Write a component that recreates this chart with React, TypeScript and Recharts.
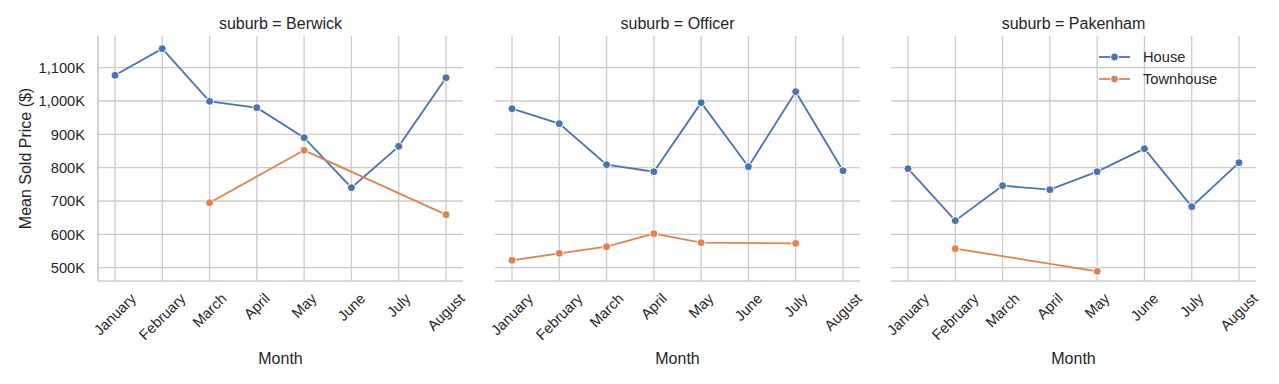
import { LineChart, Line, XAxis, YAxis, CartesianGrid } from 'recharts'

// Seaborn "deep" palette + whitegrid style
const HOUSE_COLOR = '#4c72b0'
const TOWNHOUSE_COLOR = '#dd8452'
const GRID = '#cccccc'
const INK = '#262626'
const FONT = '"Liberation Sans", Arial, sans-serif'
const TICK_FONT = 14.67
const LABEL_FONT = 16

const MONTHS = ['January', 'February', 'March', 'April', 'May', 'June', 'July', 'August']
const SUBURBS = ['Berwick', 'Officer', 'Pakenham']

const BERWICK_HOUSE = [1077000, 1157000, 999000, 980000, 890000, 740000, 864000, 1070000]
const BERWICK_TOWNHOUSE = [null, null, 695000, null, 852000, null, null, 659000]
const OFFICER_HOUSE = [977000, 932000, 809000, 788000, 995000, 803000, 1028000, 791000]
const OFFICER_TOWNHOUSE = [522000, 543000, 563000, 602000, 575000, null, 573000, null]
const PAKENHAM_HOUSE = [797000, 641000, 746000, 734000, 788000, 857000, 683000, 815000]
const PAKENHAM_TOWNHOUSE = [null, 557000, null, null, 489000, null, null, null]

const Y_TICKS = [500000, 600000, 700000, 800000, 900000, 1000000, 1100000]
const Y_DOMAIN = [460000, 1195000]

const SERIES: Record<string, { house: (number | null)[]; townhouse: (number | null)[] }> = {
  Berwick: { house: BERWICK_HOUSE, townhouse: BERWICK_TOWNHOUSE },
  Officer: { house: OFFICER_HOUSE, townhouse: OFFICER_TOWNHOUSE },
  Pakenham: { house: PAKENHAM_HOUSE, townhouse: PAKENHAM_TOWNHOUSE },
}

// panel plot-area left edges (px) and shared plot size
const PLOT_LEFTS = [98, 495, 891]
const PLOT_W = 365
const CHART_H = 384
const TOP = 36
const X_AXIS_H = 103

let ctx: CanvasRenderingContext2D | null = null
function textWidth(s: string) {
  if (!ctx) ctx = document.createElement('canvas').getContext('2d')
  if (!ctx) return s.length * 7.5
  ctx.font = `${TICK_FONT}px ${FONT}`
  return ctx.measureText(s).width
}

const formatPrice = (v: number) => `${(v / 1000).toLocaleString('en-US')}K`

// rotated month label, bbox centred under the tick and top-aligned (matplotlib rotation=45)
function MonthTick({ x, y, payload }: any) {
  const label = String(payload.value)
  const w = textWidth(label)
  const h = TICK_FONT * 1.15
  const cy = y + (w + h) / (2 * Math.SQRT2)
  return (
    <text
      x={x}
      y={cy}
      textAnchor="middle"
      dominantBaseline="central"
      transform={`rotate(-45 ${x} ${cy})`}
      fill={INK}
      fontSize={TICK_FONT}
      fontFamily={FONT}
    >
      {label}
    </text>
  )
}

// shared y: only the first panel shows tick labels, the others keep the grid
const NoTick = () => <g />

function MonthLabel({ viewBox }: any) {
  return (
    <text
      x={viewBox.x + viewBox.width / 2}
      y={viewBox.y + 83}
      textAnchor="middle"
      fill={INK}
      fontSize={LABEL_FONT}
      fontFamily={FONT}
    >
      Month
    </text>
  )
}

function PriceLabel({ viewBox }: any) {
  const cx = viewBox.x + 25
  const cy = viewBox.y + viewBox.height / 2
  return (
    <text
      x={cx}
      y={cy}
      textAnchor="middle"
      dominantBaseline="central"
      transform={`rotate(-90 ${cx} ${cy})`}
      fill={INK}
      fontSize={LABEL_FONT}
      fontFamily={FONT}
    >
      Mean Sold Price ($)
    </text>
  )
}

function Panel({ suburb, index }: { suburb: string; index: number }) {
  const first = index === 0
  const yW = first ? 98 : 0
  const mLeft = first ? 0 : 30
  const mRight = 25
  const chartLeft = PLOT_LEFTS[index] - yW - mLeft
  const width = yW + mLeft + PLOT_W + mRight
  const s = SERIES[suburb]
  const data = MONTHS.map((m, i) => ({ month: m, house: s.house[i], townhouse: s.townhouse[i] }))

  return (
    <div style={{ position: 'absolute', left: chartLeft, top: 0 }}>
      <LineChart
        width={width}
        height={CHART_H}
        data={data}
        margin={{ top: TOP, right: mRight, left: mLeft, bottom: 0 }}
      >
        {/* syncWithTicks: no extra lines on the plot-area edges */}
        <CartesianGrid stroke={GRID} strokeWidth={1.33} syncWithTicks />
        <XAxis
          dataKey="month"
          interval={0}
          padding={{ left: 17, right: 17 }}
          height={X_AXIS_H}
          tickLine={false}
          tickSize={0}
          tickMargin={9}
          axisLine={{ stroke: GRID, strokeWidth: 1.67 }}
          tick={<MonthTick />}
          label={<MonthLabel />}
        />
        <YAxis
          type="number"
          domain={Y_DOMAIN}
          ticks={Y_TICKS}
          allowDataOverflow
          width={yW}
          tickLine={false}
          tickSize={0}
          tickMargin={13}
          axisLine={{ stroke: GRID, strokeWidth: 1.67 }}
          tick={first ? { fill: INK, fontSize: TICK_FONT, fontFamily: FONT } : <NoTick />}
          tickFormatter={formatPrice}
          label={first ? <PriceLabel /> : undefined}
        />
        <Line
          type="linear"
          dataKey="house"
          name="House"
          stroke={HOUSE_COLOR}
          strokeWidth={1.8}
          dot={{ r: 4, fill: HOUSE_COLOR, stroke: '#ffffff', strokeWidth: 1 }}
          activeDot={false}
          connectNulls
          isAnimationActive={false}
        />
        <Line
          type="linear"
          dataKey="townhouse"
          name="Townhouse"
          stroke={TOWNHOUSE_COLOR}
          strokeWidth={1.8}
          dot={{ r: 4, fill: TOWNHOUSE_COLOR, stroke: '#ffffff', strokeWidth: 1 }}
          activeDot={false}
          connectNulls
          isAnimationActive={false}
        />
      </LineChart>
    </div>
  )
}

const LEGEND = [
  { name: 'House', color: HOUSE_COLOR },
  { name: 'Townhouse', color: TOWNHOUSE_COLOR },
]

export default function App() {
  return (
    <div
      style={{
        position: 'absolute',
        left: 0,
        top: 0,
        width: 1279,
        height: CHART_H,
        background: '#ffffff',
        fontFamily: FONT,
      }}
    >
      {SUBURBS.map((sub, i) => (
        <Panel key={sub} suburb={sub} index={i} />
      ))}
      <svg
        width={1279}
        height={CHART_H}
        style={{ position: 'absolute', left: 0, top: 0, pointerEvents: 'none' }}
      >
        {SUBURBS.map((sub, i) => (
          <text
            key={sub}
            x={PLOT_LEFTS[i] + PLOT_W / 2}
            y={29}
            textAnchor="middle"
            fill={INK}
            fontSize={LABEL_FONT}
            fontFamily={FONT}
          >
            {`suburb = ${sub}`}
          </text>
        ))}
        {LEGEND.map((item, i) => {
          const y = 57 + i * 22
          return (
            <g key={item.name}>
              <line x1={1099} x2={1130} y1={y} y2={y} stroke={item.color} strokeWidth={1.8} />
              <circle cx={1114.5} cy={y} r={4} fill={item.color} stroke="#ffffff" strokeWidth={1} />
              <text
                x={1143}
                y={y}
                dominantBaseline="central"
                fill={INK}
                fontSize={TICK_FONT}
                fontFamily={FONT}
              >
                {item.name}
              </text>
            </g>
          )
        })}
      </svg>
    </div>
  )
}
